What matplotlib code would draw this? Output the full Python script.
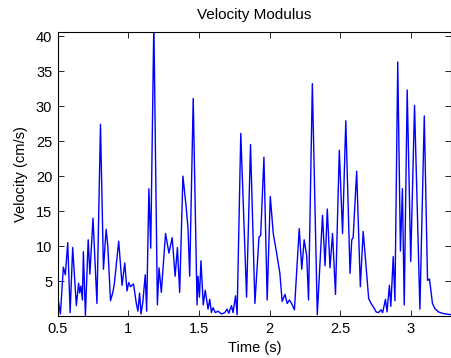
import numpy as np
import matplotlib
matplotlib.use('Agg')
import matplotlib.pyplot as plt

# peaks and troughs
time_s = [0.500, 0.518, 0.539, 0.553, 0.570, 0.587, 0.605, 0.631, 0.647, 0.655,
          0.664, 0.674, 0.681, 0.695, 0.715, 0.727, 0.749, 0.777, 0.802, 0.823,
          0.842, 0.854, 0.873, 0.891, 0.901, 0.931, 0.955, 0.974, 0.990, 1.002,
          1.015, 1.036, 1.056, 1.067, 1.079, 1.089, 1.102, 1.119, 1.129, 1.145,
          1.158, 1.180, 1.205, 1.217, 1.233, 1.263, 1.287, 1.310, 1.331, 1.347,
          1.363, 1.386, 1.410, 1.422, 1.434, 1.459, 1.486, 1.493, 1.503, 1.514,
          1.530, 1.544, 1.564, 1.576, 1.588, 1.599, 1.616, 1.635, 1.659, 1.682,
          1.699, 1.711, 1.730, 1.741, 1.759, 1.770, 1.796, 1.837, 1.865, 1.896,
          1.925, 1.937, 1.960, 1.983, 2.005, 2.026, 2.050, 2.073, 2.089, 2.109,
          2.125, 2.141, 2.156, 2.176, 2.210, 2.228, 2.245, 2.263, 2.276, 2.303,
          2.338, 2.375, 2.393, 2.409, 2.428, 2.446, 2.467, 2.494, 2.517, 2.540,
          2.570, 2.582, 2.592, 2.617, 2.643, 2.663, 2.680, 2.702, 2.719, 2.736,
          2.755, 2.771, 2.790, 2.801, 2.821, 2.832, 2.849, 2.859, 2.876, 2.888,
          2.908, 2.927, 2.941, 2.954, 2.975, 3.000, 3.027, 3.065, 3.096, 3.119,
          3.133, 3.154, 3.174, 3.197, 3.224, 3.252, 3.288]
velocity = [2.6, 0.3, 7.0, 5.9, 10.5, 0.5, 9.8, 1.5, 4.7, 3.3,
            4.3, 2.3, 9.2, 0.1, 10.9, 6.0, 14.0, 1.8, 27.4, 6.7,
            12.4, 10.0, 2.2, 3.5, 4.8, 10.7, 4.4, 7.6, 3.6, 4.8,
            4.2, 4.6, 1.8, 0.7, 3.3, 0.3, 2.0, 5.9, 0.7, 18.2,
            9.7, 42.0, 1.6, 6.9, 3.4, 11.8, 9.0, 11.2, 5.7, 9.8,
            3.4, 20.0, 15.4, 12.6, 5.7, 31.1, 1.6, 5.7, 2.7, 7.9,
            1.6, 3.7, 1.0, 2.4, 0.5, 1.2, 0.5, 0.7, 0.3, 0.5,
            1.0, 0.4, 1.5, 0.5, 2.9, 0.2, 26.1, 2.7, 24.5, 1.8,
            11.3, 11.5, 22.7, 2.3, 17.1, 11.8, 9.0, 6.1, 2.1, 3.1,
            1.8, 2.3, 1.8, 0.9, 12.5, 6.7, 10.9, 8.6, 2.3, 33.2,
            0.2, 14.4, 7.2, 15.3, 6.9, 11.8, 3.1, 23.7, 11.8, 27.9,
            6.1, 10.9, 11.2, 20.7, 4.2, 12.1, 8.0, 2.5, 1.8, 1.3,
            0.6, 0.5, 0.9, 0.5, 2.4, 0.6, 4.4, 1.4, 8.5, 2.2,
            36.3, 9.3, 18.2, 1.6, 32.3, 7.8, 30.1, 1.0, 28.6, 5.1,
            5.3, 1.8, 1.0, 0.6, 0.4, 0.3, 0.2]

x_ticks = [0.5, 1, 1.5, 2, 2.5, 3]
x_labels = ['0.5', '1', '1.5', '2', '2.5', '3']
y_ticks = [5, 10, 15, 20, 25, 30, 35, 40]

plt.rcParams['font.family'] = ['Liberation Sans', 'DejaVu Sans']

fig = plt.figure(figsize=(4.52, 3.58), dpi=100)
ax = fig.add_axes([0.128, 0.117, 0.870, 0.794])

ax.plot(time_s, velocity, color='#0000ff', linewidth=1.0)

ax.set_xlim(0.5, 3.286)
ax.set_ylim(0, 40.6)
ax.set_xticks(x_ticks)
ax.set_xticklabels(x_labels)
ax.set_yticks(y_ticks)
ax.tick_params(direction='in', top=True, right=True, length=4, width=0.6,
               labelsize=10.5, pad=4)
for s in ax.spines.values():
    s.set_linewidth(0.8)

ax.set_title('Velocity Modulus', fontsize=11, pad=9)
ax.set_xlabel('Time (s)', fontsize=10.5, labelpad=4)
ax.set_ylabel('Velocity (cm/s)', fontsize=10.5, labelpad=6)

fig.savefig('out.png', dpi=100)
